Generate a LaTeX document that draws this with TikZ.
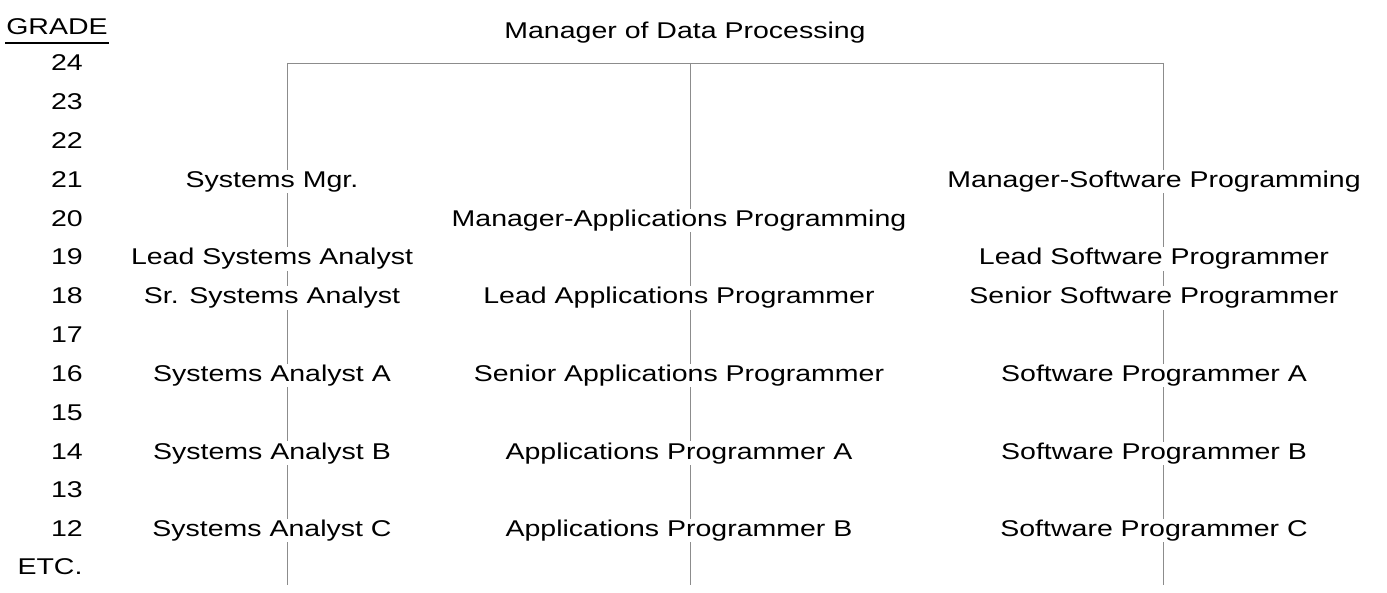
\documentclass[tikz,border=0pt]{standalone}
\usepackage{fontspec}
\setmainfont{Liberation Sans}[FakeStretch=1.25]
\begin{document}
\begin{tikzpicture}[x=1pt,y=-1pt,
  lbl/.style={font=\fontsize{22.8}{27}\selectfont, inner sep=1pt, anchor=base, fill=white},
  conn/.style={draw=black!45, line width=0.6pt}]
\useasboundingbox (0,0) rectangle (1387,593);
% column reference coordinates
\coordinate (cL) at (272,0);
\coordinate (cM) at (679,0);
\coordinate (cR) at (1154,0);
% connector corners
\coordinate (tl) at (287,63);
\coordinate (tm) at (690,63);
\coordinate (tr) at (1163,63);
\coordinate (bl) at (287,585);
\coordinate (bm) at (690,585);
\coordinate (br) at (1163,585);
\draw[conn] (tl) -- (tr);
\draw[conn] (tl) -- (bl);
\draw[conn] (tm) -- (bm);
\draw[conn] (tr) -- (br);
% grade column
\node[lbl] (grade) at (57,35) {GRADE};
\draw[line width=2pt] ([yshift=-8pt]grade.base west) -- ([yshift=-8pt]grade.base east);
\foreach \g [count=\i from 0] in {24,23,...,12}
  \node[lbl] (g\g) at (67,{71+\i*38.8}) {\g};
\node[lbl] (etc) at (50,574) {ETC.};
% title
\node[lbl] (mdp) at (685,39) {Manager of Data Processing};
% systems column
\node[lbl] (smgr) at (g21.base -| cL) {Systems Mgr.};
\node[lbl] (lsa) at (g19.base -| cL) {Lead Systems Analyst};
\node[lbl] (ssa) at (g18.base -| cL) {Sr. Systems Analyst};
\node[lbl] (saa) at (g16.base -| cL) {Systems Analyst A};
\node[lbl] (sab) at (g14.base -| cL) {Systems Analyst B};
\node[lbl] (sac) at (g12.base -| cL) {Systems Analyst C};
% applications column
\node[lbl] (map) at (g20.base -| cM) {Manager-Applications Programming};
\node[lbl] (lap) at (g18.base -| cM) {Lead Applications Programmer};
\node[lbl] (sap) at (g16.base -| cM) {Senior Applications Programmer};
\node[lbl] (apa) at (g14.base -| cM) {Applications Programmer A};
\node[lbl] (apb) at (g12.base -| cM) {Applications Programmer B};
% software column
\node[lbl] (msp) at (g21.base -| cR) {Manager-Software Programming};
\node[lbl] (lsp) at (g19.base -| cR) {Lead Software Programmer};
\node[lbl] (ssp) at (g18.base -| cR) {Senior Software Programmer};
\node[lbl] (spa) at (g16.base -| cR) {Software Programmer A};
\node[lbl] (spb) at (g14.base -| cR) {Software Programmer B};
\node[lbl] (spc) at (g12.base -| cR) {Software Programmer C};
\end{tikzpicture}
\end{document}
